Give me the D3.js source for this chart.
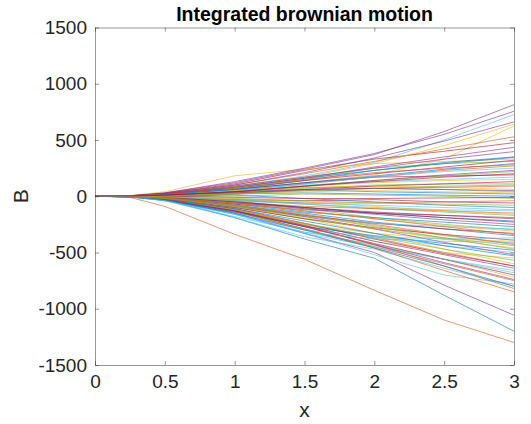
<!DOCTYPE html>
<html><head><meta charset="utf-8">
<script src="https://cdn.jsdelivr.net/npm/d3@7"></script>
<style>
html,body{margin:0;padding:0;background:#fff;}
svg{display:block;font-family:"Liberation Sans",Arial,Helvetica,sans-serif;}
</style></head><body>
<svg id="chart" width="531" height="424"></svg>
<script>
const title = "Integrated brownian motion";
const xLabel = "x";
const yLabel = "B";
const xTicks = [0, 0.5, 1, 1.5, 2, 2.5, 3];
const yTicks = [-1500, -1000, -500, 0, 500, 1000, 1500];
const xSamples = [0, 0.25, 0.5, 1, 1.5, 2, 2.5, 3];
const colorOrder = ["#0072BD", "#D95319", "#EDB120", "#7E2F8E", "#77AC30", "#4DBEEE", "#A2142F"];
// values at xSamples (after the starting 0) for each path
const paths = [
  [-4, -30, -190, -380, -551, -880, -1200],
  [-10, -90, -338, -560, -836, -1100, -1300],
  [2, 10, 60, 120, 190, 330, 625],
  [5, 30, 120, 240, 370, 575, 814],
  [3, 20, 70, 150, 250, 290, 310],
  [2, 20, 90, 180, 300, 500, 726],
  [4, 25, 110, 230, 330, 400, 476],

  [-2, -10, 20, 60, 40, 30, 20],
  [-5, -30, -120, -250, -370, -500, -620],
  [-3, -25, -130, -300, -440, -560, -720],
  [-5, -30, -150, -330, -500, -790, -1058],
  [2, 10, 40, 80, 70, 60, 40],
  [-6, -40, -190, -360, -470, -640, -800],
  [-2, -15, -60, -100, -140, -170, -200],

  [-3, -20, -80, -150, -230, -290, -350],
  [3, 25, 100, 200, 310, 420, 529],
  [6, 40, 182, 240, 290, 310, 330],
  [4, 30, 130, 250, 380, 550, 755],
  [0, -5, -40, -110, -190, -250, -300],
  [-5, -35, -160, -330, -520, -700, -780],
  [2, 15, 60, 120, 170, 180, 190],

  [3, 20, 80, 160, 230, 290, 345],
  [-4, -35, -140, -290, -460, -660, -850],
  [3, 20, 90, 170, 290, 450, 641],
  [4, 25, 100, 210, 340, 490, 661],
  [-3, -20, -80, -170, -260, -350, -420],
  [-4, -30, -130, -250, -360, -440, -500],
  [-1, -10, -30, -40, -30, -50, -60],

  [1, 5, 10, -20, -50, -80, -100],
  [2, 15, 50, 110, 170, 230, 270],
  [-4, -30, -120, -260, -400, -500, -550],
  [3, 20, 80, 160, 260, 350, 435],
  [1, 10, 40, 70, 100, 110, 110],
  [-5, -35, -150, -320, -430, -560, -660],
  [-3, -25, -110, -240, -380, -510, -620],

  [2, 15, 60, 140, 230, 300, 350],
  [-2, -10, -40, -60, -60, -50, -40],
  [1, 10, 50, 90, 120, 140, 150],
  [-2, -15, -60, -110, -160, -210, -250],
  [-3, -25, -100, -200, -290, -370, -440],
  [2, 15, 50, 110, 170, 220, 250],
  [-3, -20, -90, -170, -240, -290, -330],

  [-4, -30, -140, -270, -350, -420, -480],
  [-5, -30, -130, -290, -450, -600, -750],
  [2, 15, 50, 80, 90, 80, 60],
  [3, 20, 90, 170, 250, 330, 397],
  [-1, -10, -30, -70, -110, -140, -170],
  [-4, -25, -100, -180, -240, -270, -290],
  [3, 20, 70, 140, 200, 260, 320],

  [1, 5, 20, 30, 20, 10, 0],
  [-4, -30, -120, -260, -430, -620, -820],
  [-3, -20, -90, -200, -330, -470, -600],
  [-4, -30, -130, -260, -400, -520, -640],
  [2, 10, 40, 90, 140, 180, 220],
  [-2, -10, -30, -60, -80, -100, -120],
  [-3, -20, -100, -200, -280, -340, -390],

  [-2, -15, -70, -140, -190, -230, -270],
  [2, 10, 30, 50, 70, 80, 90],
  [-3, -25, -120, -250, -330, -380, -400],
  [-3, -20, -90, -180, -290, -410, -520],
  [-1, -5, 0, 20, 10, 0, -20],
  [2, 15, 60, 100, 130, 150, 170],
  [-5, -30, -130, -270, -420, -560, -700],

  [2, 15, 60, 120, 180, 240, 290],
  [-1, -10, -50, -90, -110, -130, -150],
  [-3, -20, -90, -190, -290, -380, -460],
  [-2, -15, -70, -120, -150, -170, -190],
  [-4, -30, -120, -240, -360, -470, -570],
  [-5, -40, -160, -300, -360, -380, -370],
  [1, 5, 30, 60, 90, 110, 130],

  [-2, -10, -50, -100, -150, -190, -220],
  [-3, -20, -80, -160, -250, -340, -430],
  [1, 5, 20, 40, 50, 40, 30],
  [2, 10, 40, 90, 140, 190, 230],
  [-1, -5, -20, -40, -60, -70, -80],
  [-5, -35, -160, -330, -450, -560, -680],
  [0, 0, -10, -20, -20, -15, -10],

  [-4, -25, -110, -220, -330, -440, -530],
  [3, 20, 80, 150, 210, 250, 280],
  [-2, -15, -60, -130, -200, -260, -310],
  [-4, -30, -130, -270, -430, -590, -740],
  [1, 5, 20, 50, 70, 90, 100],
  [-1, -10, -40, -70, -100, -120, -130],
  [-2, -10, -50, -100, -150, -190, -230],

  [-5, -35, -150, -300, -460, -620, -800],
  [-2, -15, -60, -130, -200, -270, -340],
  [-1, -5, -20, -50, -90, -130, -160],
  [1, 10, 40, 60, 70, 60, 50],
  [-3, -20, -80, -170, -270, -370, -470],
  [-6, -40, -180, -320, -380, -400, -410],
  [2, 10, 40, 90, 130, 170, 200]
];

const svg = d3.select("#chart");
const L = 95, R = 514, T = 27.5, B = 365;
const x = d3.scaleLinear().domain([0, 3]).range([L, R]);
const y = d3.scaleLinear().domain([-1500, 1500]).range([B, T]);
const axisColor = "#262626";

const plot = svg.append("g");
const line = d3.line().x(d => x(d[0])).y(d => y(d[1]));
paths.forEach((p, i) => {
  const pts = xSamples.map((xv, k) => [xv, k === 0 ? 0 : p[k - 1]]);
  plot.append("path")
    .attr("d", line(pts))
    .attr("fill", "none")
    .attr("stroke", colorOrder[i % colorOrder.length])
    .attr("stroke-width", 0.6);
});

const hyphenFmt = d => String(d).replace("\u2212", "-");
const tickLen = 4;
const xAxisB = d3.axisBottom(x).tickValues(xTicks).tickSizeInner(-tickLen).tickSizeOuter(0).tickPadding(10).tickFormat(hyphenFmt);
const xAxisT = d3.axisTop(x).tickValues(xTicks).tickSizeInner(-tickLen).tickSizeOuter(0).tickFormat("");
const yAxisL = d3.axisLeft(y).tickValues(yTicks).tickSizeInner(-tickLen).tickSizeOuter(0).tickPadding(8).tickFormat(hyphenFmt);
const yAxisR = d3.axisRight(y).tickValues(yTicks).tickSizeInner(-tickLen).tickSizeOuter(0).tickFormat("");

function styleAxis(g) {
  g.selectAll("path.domain").attr("stroke", axisColor).attr("stroke-width", 0.8).attr("opacity", 0.6);
  g.selectAll(".tick line").attr("stroke", axisColor).attr("stroke-width", 0.8).attr("opacity", 0.6);
  g.selectAll(".tick text").attr("fill", axisColor).style("font-size", "19px")
    .style("font-family", "Liberation Sans, Arial, Helvetica, sans-serif");
}
svg.append("g").attr("transform", `translate(0,${B})`).call(xAxisB).call(styleAxis);
svg.append("g").attr("transform", `translate(0,${T})`).call(xAxisT).call(styleAxis);
svg.append("g").attr("transform", `translate(${L},0)`).call(yAxisL).call(styleAxis);
svg.append("g").attr("transform", `translate(${R},0)`).call(yAxisR).call(styleAxis);

svg.append("text")
  .attr("x", (L + R) / 2).attr("y", 21)
  .attr("text-anchor", "middle")
  .attr("fill", "#000")
  .style("font-size", "19.5px").style("font-weight", "bold")
  .text(title);

svg.append("text")
  .attr("x", (L + R) / 2).attr("y", 417)
  .attr("text-anchor", "middle")
  .attr("fill", axisColor)
  .style("font-size", "21px")
  .text(xLabel);

svg.append("text")
  .attr("transform", `translate(28,${(T + B) / 2}) rotate(-90)`)
  .attr("text-anchor", "middle")
  .attr("fill", axisColor)
  .style("font-size", "21px")
  .text(yLabel);
</script>
</body></html>
